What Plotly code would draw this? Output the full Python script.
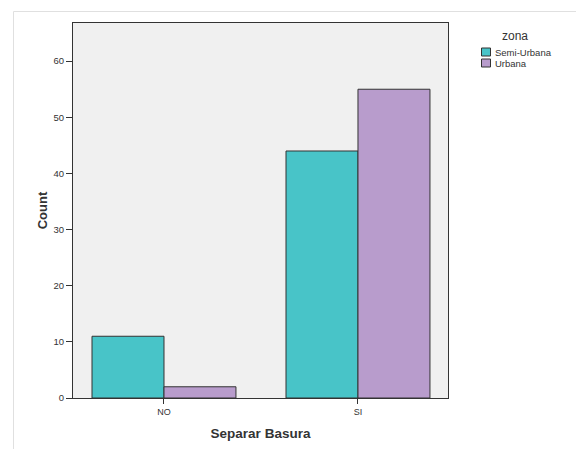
import plotly.graph_objects as go

categories = ["NO", "SI"]
semi_urbana = [11, 44]
urbana = [2, 55]
series_names = ["Semi-Urbana", "Urbana"]
series_colors = ["#48c4c8", "#b89ccc"]
y_ticks = [0, 10, 20, 30, 40, 50, 60]

fig = go.Figure()
for name, vals, col in zip(series_names, [semi_urbana, urbana], series_colors):
    fig.add_trace(go.Bar(x=categories, y=vals, name=name, showlegend=False,
                         marker=dict(color=col, line=dict(color="#333333", width=1))))

# page offset of plotly div inside the html body
OFF = 8
L, T, W, H = 73, 23, 375, 375  # page coords of plot area
def px(x):
    return (x - L) / W
def py(y):
    return (T + H - y) / H

shapes = [
    dict(type="rect", xref="paper", yref="paper",
         x0=px(13.5), x1=px(620), y0=py(11.5), y1=py(480),
         line=dict(color="#e0e0e0", width=1), fillcolor="rgba(0,0,0,0)", layer="below"),
]
annotations = [
    dict(text="zona", xref="paper", yref="paper", x=px(515), y=py(36),
         xanchor="center", yanchor="middle", showarrow=False,
         font=dict(size=12, color="#333333")),
]
for i, (name, col) in enumerate(zip(series_names, series_colors)):
    y0 = 48 + i * 11
    shapes.append(dict(type="rect", xref="paper", yref="paper",
                       x0=px(481.5), x1=px(490.5), y0=py(y0), y1=py(y0 + 8),
                       line=dict(color="#333333", width=1), fillcolor=col))
    annotations.append(dict(text=name, xref="paper", yref="paper",
                            x=px(492.5), y=py(y0 + 4), xanchor="left", yanchor="middle",
                            showarrow=False, font=dict(size=9.5, color="#333333")))

fig.update_layout(
    width=584 - OFF, height=449 - OFF,
    margin=dict(l=L - OFF, r=584 - L - W, t=T - OFF, b=449 - T - H, pad=0),
    paper_bgcolor="white",
    plot_bgcolor="#f0f0f0",
    barmode="group",
    bargap=0.258,
    bargroupgap=0,
    showlegend=False,
    font=dict(family="Liberation Sans, Arial", color="#333333", size=9),
    xaxis=dict(
        range=[-0.469, 1.464], showgrid=False, zeroline=False,
        ticks="outside", ticklen=5, tickcolor="#333333", tickwidth=1,
        showline=True, linecolor="#333333", linewidth=1, mirror=True,
        tickfont=dict(size=9, color="#333333"),
        title=dict(text="<b>Separar Basura</b>", font=dict(size=13.5, color="#333333"), standoff=12),
    ),
    yaxis=dict(
        range=[0, 66.8], showgrid=False, zeroline=False,
        tickvals=y_ticks,
        ticks="outside", ticklen=6, tickcolor="#333333", tickwidth=1,
        showline=True, linecolor="#333333", linewidth=1, mirror=True,
        tickfont=dict(size=9.5, color="#333333"),
        title=dict(text="<b>Count</b>", font=dict(size=13, color="#333333"), standoff=2),
    ),
    shapes=shapes,
    annotations=annotations,
)

fig.write_html("out.html")
